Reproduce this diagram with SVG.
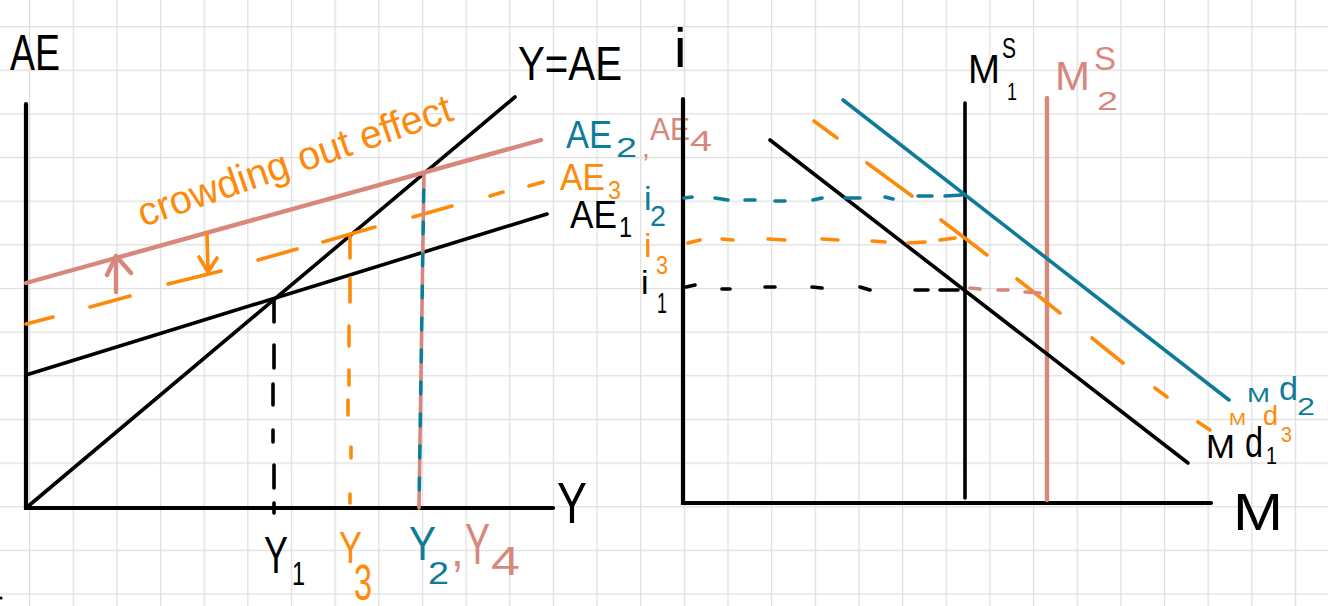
<svg xmlns="http://www.w3.org/2000/svg" width="1328" height="606" viewBox="0 0 1328 606">
<style>
.k{stroke:#000;}
.t{stroke:#0e7c99;}
.o{stroke:#fd8a0a;}
.p{stroke:#d8877d;}
.ln{fill:none;stroke-width:3.6;stroke-linecap:round;stroke-linejoin:round;}
.pw{stroke-width:4.4;}
.ax{fill:none;stroke:#000;stroke-width:4.2;stroke-linecap:round;}
text{font-family:"Liberation Sans","Noto Sans",sans-serif;}
.tk{fill:#000;}
.tt{fill:#0e7c99;}
.to{fill:#fd8a0a;}
.tp{fill:#d8877d;}
</style>
<defs>
<pattern id="grid" x="29" y="26" width="43.65" height="43.65" patternUnits="userSpaceOnUse">
<path d="M0.6 0V43.65M0 0.6H43.65" fill="none" stroke="#dedede" stroke-width="1.3"/>
</pattern>
</defs>
<rect width="1328" height="606" fill="#fff"/>
<rect width="1328" height="606" fill="url(#grid)"/>
<circle cx="1" cy="598" r="1.6" fill="#000"/>

<g id="left-graph">
<g id="left-axes">
<path class="ax" d="M26 104V508H553"/>
</g>
<g id="connectors">
<path class="ln k" d="M26 508L515 97"/>
<path class="ln k" d="M26 375L547 214"/>
<path class="ln o" d="M26 324L53 317M90 307L130 296M168 284L221 271M258 260L297 249M323 242L375 227M413 217L452 206M490 196L503 192M529 186L543 182"/>
<path class="ln p pw" d="M26 283L541 140"/>
<path class="ln k" d="M274 299V322M274 345V368M273 384V405M273 430V442M274 465V488M274 503V513"/>
<path class="ln o" d="M350 237V258M350 278V302M349 326V346M349 370V385M348 400V415M351 447V458M350 494V503"/>
<path class="ln p" d="M424 172L419 508" stroke-dasharray="18 14"/>
<path class="ln t" d="M424 172L419 508" stroke-dasharray="12 20" stroke-dashoffset="-18"/>
<path class="ln p pw" d="M116 292V256M107 275L116 256L131 273"/>
<path class="ln o" d="M207 233L208 272M199 257L208 272L217 258"/>
</g>
<g id="left-labels">
<text class="tk" x="10" y="70" font-size="50" textLength="50" lengthAdjust="spacingAndGlyphs">AE</text>
<text class="tk" x="518" y="80" font-size="48" textLength="104" lengthAdjust="spacingAndGlyphs">Y=AE</text>
<text class="tk" x="557" y="523" font-size="58" textLength="30" lengthAdjust="spacingAndGlyphs">Y</text>
<text class="to" x="143" y="227" font-size="40" textLength="330" lengthAdjust="spacingAndGlyphs" transform="rotate(-19 143 227)">crowding out effect</text>
<text class="tt" x="566" y="148" font-size="38" textLength="46" lengthAdjust="spacingAndGlyphs">AE</text>
<text class="tt" x="616" y="157" font-size="28" textLength="21" lengthAdjust="spacingAndGlyphs">2</text>
<text class="tp" x="642" y="157" font-size="28">,</text>
<text class="tp" x="650" y="140" font-size="32" textLength="40" lengthAdjust="spacingAndGlyphs">AE</text>
<text class="tp" x="690" y="151" font-size="30" textLength="22" lengthAdjust="spacingAndGlyphs">4</text>
<text class="to" x="560" y="190" font-size="36" textLength="45" lengthAdjust="spacingAndGlyphs">AE</text>
<text class="to" x="608" y="199" font-size="26" textLength="13" lengthAdjust="spacingAndGlyphs">3</text>
<text class="tk" x="570" y="228" font-size="38" textLength="47" lengthAdjust="spacingAndGlyphs">AE</text>
<text class="tk" x="619" y="237" font-size="30" textLength="13" lengthAdjust="spacingAndGlyphs">1</text>
<text class="tk" x="264" y="573" font-size="52" textLength="24" lengthAdjust="spacingAndGlyphs">Y</text>
<text class="tk" x="292" y="585" font-size="34" textLength="13" lengthAdjust="spacingAndGlyphs">1</text>
<text class="to" x="339" y="563" font-size="44" textLength="23" lengthAdjust="spacingAndGlyphs">Y</text>
<text class="to" x="354" y="600" font-size="50" textLength="18" lengthAdjust="spacingAndGlyphs">3</text>
<text class="tt" x="409" y="560" font-size="48" textLength="27" lengthAdjust="spacingAndGlyphs">Y</text>
<text class="tt" x="428" y="584" font-size="32" textLength="21" lengthAdjust="spacingAndGlyphs">2</text>
<text class="tp" x="451" y="566" font-size="46">,</text>
<text class="tp" x="465" y="564" font-size="58" textLength="25" lengthAdjust="spacingAndGlyphs">Y</text>
<text class="tp" x="491" y="575" font-size="40" textLength="29" lengthAdjust="spacingAndGlyphs">4</text>
</g>
</g>

<g id="right-graph">
<g id="right-axes">
<path class="ax" d="M683 99V503H1211"/>
</g>
<g id="right-connectors">
<path class="ln k" d="M965 103V498"/>
<path class="ln p pw" d="M1047 98V500"/>
<path class="ln k" d="M770 140L1188 463"/>
<path class="ln t" d="M843 100L1229 400"/>
<path class="ln o" d="M814 121L837 138M867 163L912 196M941 220L987 255M1017 279L1060 313M1092 338L1123 363M1155 388L1167 397M1198 422L1210 430"/>
<path class="ln t" d="M684 198L692 197M715 198L728 200M745 200L755 200M775 201L785 201M813 200L822 198M845 198L860 198M885 197L893 199M918 196L932 196M945 196L962 195"/>
<path class="ln o" d="M688 243L700 240M722 239L733 240M768 239L785 240M822 239L838 240M872 241L885 242M908 243L925 242M940 240L955 238"/>
<path class="ln k" d="M686 287L695 285M722 289L730 289M765 287L775 287M812 287L822 288M860 287L870 290M915 290L928 290M940 290L958 290"/>
<path class="ln p" d="M970 288L980 289M998 290L1008 290M1025 292L1040 293"/>
</g>
<g id="right-labels">
<text class="tk" x="674" y="67" font-size="56">i</text>
<text class="tk" x="1233" y="530" font-size="52" textLength="50" lengthAdjust="spacingAndGlyphs">M</text>
<text class="tk" x="968" y="83" font-size="40" textLength="32" lengthAdjust="spacingAndGlyphs">M</text>
<text class="tk" x="1002" y="58" font-size="30" textLength="14" lengthAdjust="spacingAndGlyphs">S</text>
<text class="tk" x="1007" y="100" font-size="24" textLength="10" lengthAdjust="spacingAndGlyphs">1</text>
<text class="tp" x="1055" y="90" font-size="40" textLength="35" lengthAdjust="spacingAndGlyphs">M</text>
<text class="tp" x="1094" y="70" font-size="34" textLength="22" lengthAdjust="spacingAndGlyphs">S</text>
<text class="tp" x="1097" y="110" font-size="26" textLength="21" lengthAdjust="spacingAndGlyphs">2</text>
<text class="tk" x="1206" y="458" font-size="34" textLength="29" lengthAdjust="spacingAndGlyphs">M</text>
<text class="tk" x="1245" y="457" font-size="42" textLength="18" lengthAdjust="spacingAndGlyphs">d</text>
<text class="tk" x="1266" y="464" font-size="24" textLength="11" lengthAdjust="spacingAndGlyphs">1</text>
<text class="tt" x="1247" y="402" font-size="20" textLength="23" lengthAdjust="spacingAndGlyphs">M</text>
<text class="tt" x="1279" y="400" font-size="34" textLength="19" lengthAdjust="spacingAndGlyphs">d</text>
<text class="tt" x="1297" y="415" font-size="24" textLength="18" lengthAdjust="spacingAndGlyphs">2</text>
<text class="to" x="1229" y="425" font-size="16" textLength="17" lengthAdjust="spacingAndGlyphs">M</text>
<text class="to" x="1263" y="425" font-size="28" textLength="15" lengthAdjust="spacingAndGlyphs">d</text>
<text class="to" x="1281" y="442" font-size="22" textLength="11" lengthAdjust="spacingAndGlyphs">3</text>
<text class="tt" x="644" y="210" font-size="34">i</text>
<text class="tt" x="650" y="226" font-size="30" textLength="16" lengthAdjust="spacingAndGlyphs">2</text>
<text class="to" x="644" y="257" font-size="34">i</text>
<text class="to" x="656" y="274" font-size="26" textLength="12" lengthAdjust="spacingAndGlyphs">3</text>
<text class="tk" x="641" y="294" font-size="34">i</text>
<text class="tk" x="657" y="313" font-size="30" textLength="10" lengthAdjust="spacingAndGlyphs">1</text>
</g>
</g>
</svg>
